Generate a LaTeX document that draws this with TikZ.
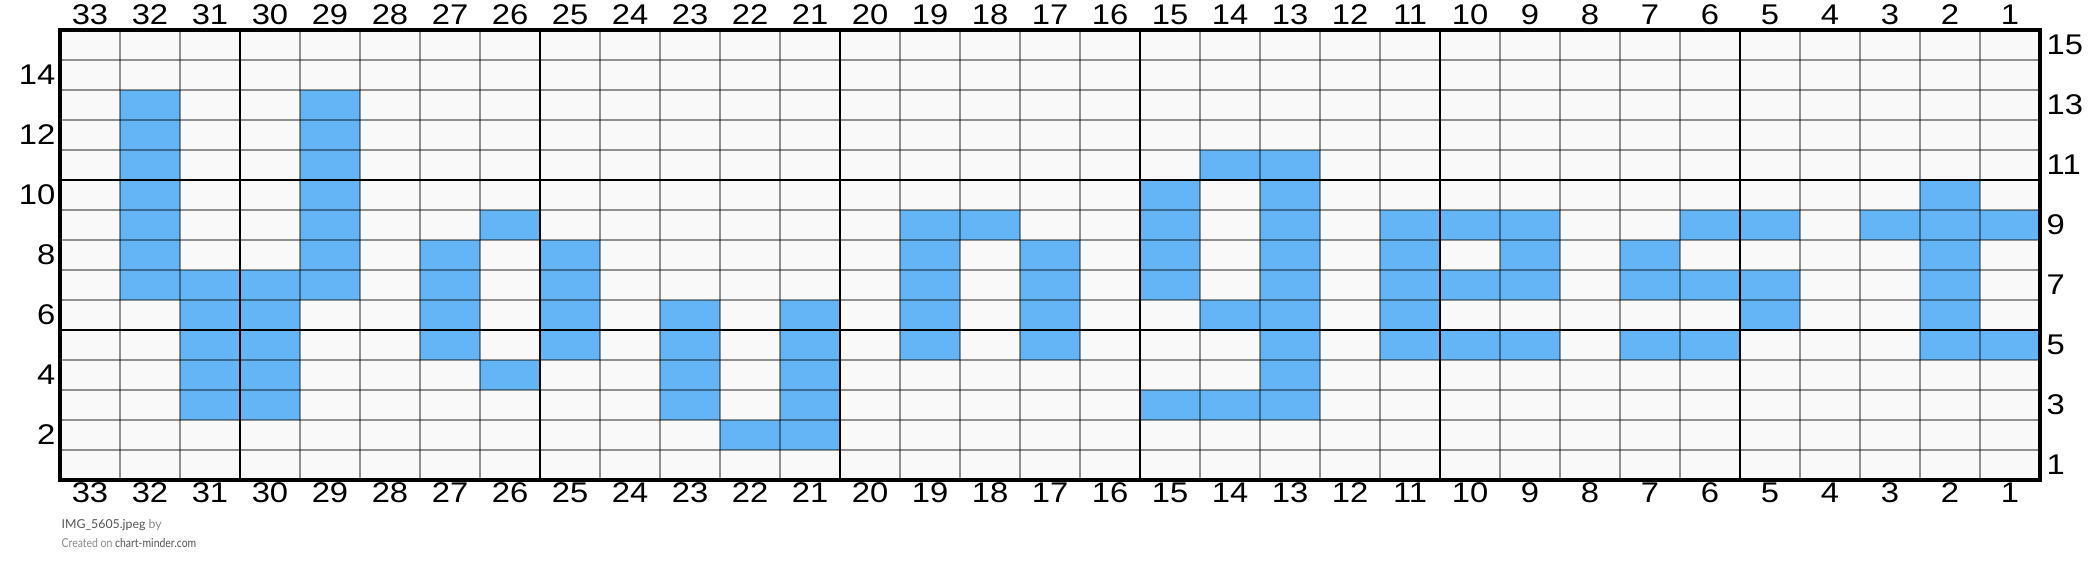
\documentclass[tikz,border=0pt]{standalone}
\usepackage{fontspec}
\setmainfont{Lato}
\newfontfamily\numfont[FakeStretch=1.15]{Liberation Sans}
\newfontfamily\footcond[FakeStretch=0.85]{Lato}
\definecolor{cellblue}{HTML}{64B5F6}
\definecolor{cellbg}{HTML}{F9F9F9}
\definecolor{footdark}{HTML}{555555}
\definecolor{footlight}{HTML}{8A8A8A}
\begin{document}
\begin{tikzpicture}[x=0.01cm,y=-0.01cm,
  lbl/.style={font=\numfont\fontsize{8.1}{9.7}\selectfont, inner sep=0pt},
  thingrid/.style={draw=black, draw opacity=0.42, line width=0.34pt},
  thickgrid/.style={draw=black, line width=0.62pt},
  bluecell/.style={fill=cellblue},
  foot/.style={font=\fontsize{3.5}{4.2}\selectfont, inner sep=0pt, anchor=west, text=footdark}
]
\useasboundingbox[fill=white] (0,0) rectangle (2100,573);
\fill[cellbg] (60,30) rectangle (2040,480);
\foreach \c/\r in {32/13,32/12,32/11,32/10,32/9,32/8,32/7,
  31/7,31/6,31/5,31/4,31/3,
  30/7,30/6,30/5,30/4,30/3,
  29/13,29/12,29/11,29/10,29/9,29/8,29/7,
  27/8,27/7,27/6,27/5,
  26/9,26/4,
  25/8,25/7,25/6,25/5,
  23/6,23/5,23/4,23/3,
  22/2,
  21/6,21/5,21/4,21/3,21/2,
  19/9,19/8,19/7,19/6,19/5,
  18/9,
  17/8,17/7,17/6,17/5,
  15/10,15/9,15/8,15/7,15/3,
  14/11,14/6,14/3,
  13/11,13/10,13/9,13/8,13/7,13/6,13/5,13/4,13/3,
  11/9,11/8,11/7,11/6,11/5,
  10/9,10/7,10/5,
  9/9,9/8,9/7,9/5,
  7/8,7/7,7/5,
  6/9,6/7,6/5,
  5/9,5/7,5/6,
  3/9,
  2/10,2/9,2/8,2/7,2/6,2/5,
  1/9,1/5}
  \fill[bluecell] ({2040-60*\c},{480-30*\r}) rectangle ({2100-60*\c},{510-30*\r});
\foreach \i in {1,...,32} \draw[thingrid] ({60+60*\i},30) -- ({60+60*\i},480);
\foreach \i in {1,...,14} \draw[thingrid] (60,{30+30*\i}) -- (2040,{30+30*\i});
\foreach \xx in {240,540,840,1140,1440,1740} \draw[thickgrid] (\xx,30) -- (\xx,480);
\foreach \yy in {180,330} \draw[thickgrid] (60,\yy) -- (2040,\yy);
\draw[draw=black, line width=0.9pt] (60,30) rectangle (2040,480);
\foreach \c in {1,...,33} {
  \node[lbl] (top\c) at ({2070-60*\c},15) {\c};
  \node[lbl] (bot\c) at ({2070-60*\c},493) {\c};
}
\foreach \r in {2,4,...,14} \node[lbl, anchor=east] (left\r) at (56,{495-30*\r}) {\r};
\foreach \r in {1,3,...,15} \node[lbl, anchor=west] (right\r) at (2046,{495-30*\r}) {\r};
\node[foot] (foot1) at (61,525) {IMG\_5605.jpeg \textcolor{footlight}{by}};
\node[foot] (foot2) at (61,543) {\footcond\textcolor{footlight}{Created on} chart-minder.com};
\end{tikzpicture}
\end{document}
